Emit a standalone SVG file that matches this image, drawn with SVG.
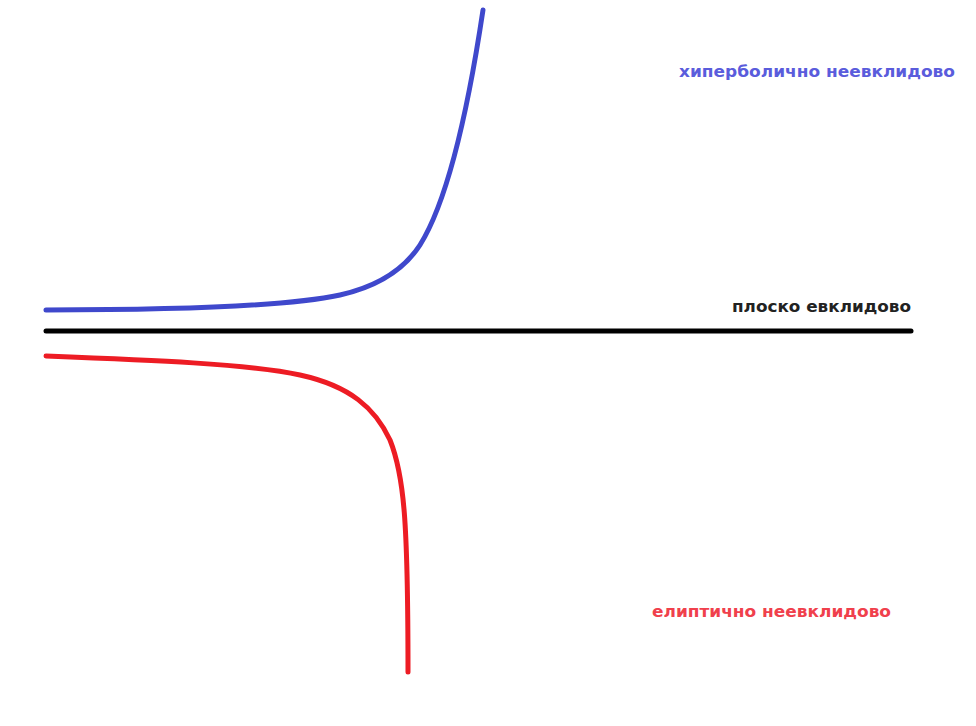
<svg xmlns="http://www.w3.org/2000/svg" width="976" height="726" viewBox="0 0 976 726">
<style>
.c{fill:none;stroke-width:5;stroke-linecap:round;stroke-linejoin:round}
.t{font-family:"DejaVu Sans","Liberation Sans",sans-serif;font-weight:bold;font-size:16px}
</style>
<rect width="976" height="726" fill="#fff"/>
<g id="connectors">
<path id="flat" class="c" stroke="#000" d="M46,331 L911,331"/>
<path id="hyper" class="c" stroke="#3f48cc" d="M46,310 C150,310 280,308 340,295 C380,286 405,268 420,245 C445,205 465,130 483,10"/>
<path id="ellip" class="c" stroke="#ed1c24" d="M46,356 C150,360 250,364 300,375 C350,386 375,408 390,440 C404,475 408,520 408,672"/>
</g>
<g id="label-hyper"><text class="t" x="679" y="77" fill="#5a5cdc" textLength="276" lengthAdjust="spacingAndGlyphs">хиперболично неевклидово</text></g>
<g id="label-flat"><text class="t" x="732" y="312" fill="#222" textLength="179" lengthAdjust="spacingAndGlyphs">плоско евклидово</text></g>
<g id="label-ellip"><text class="t" x="652" y="617" fill="#f0404c" textLength="239" lengthAdjust="spacingAndGlyphs">елиптично неевклидово</text></g>
</svg>
